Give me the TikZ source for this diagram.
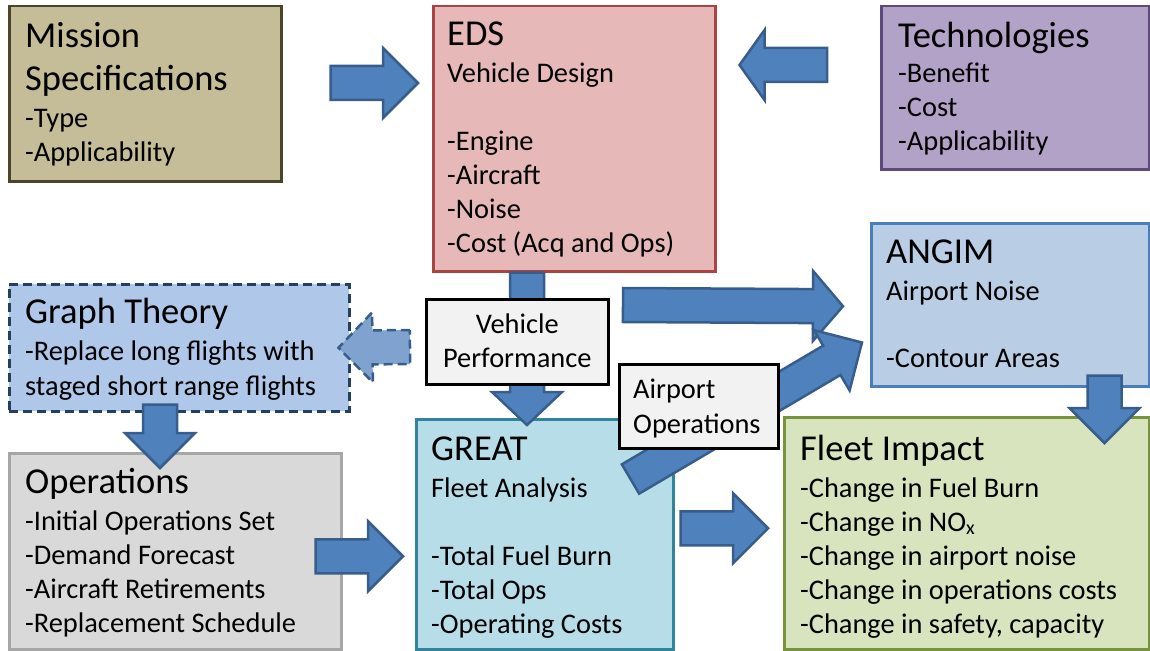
\documentclass[tikz,border=0pt]{standalone}
\usepackage{fontspec}
\setmainfont{Carlito}
\usepackage{xcolor}
\usetikzlibrary{calc}

\definecolor{msnfill}{HTML}{C4BD97}  \definecolor{msnline}{HTML}{4A452A}
\definecolor{edsfill}{HTML}{E6B9B8}  \definecolor{edsline}{HTML}{A94442}
\definecolor{techfill}{HTML}{B3A2C7} \definecolor{techline}{HTML}{5F497A}
\definecolor{angfill}{HTML}{B9CDE5}  \definecolor{angline}{HTML}{4A7EBB}
\definecolor{grphfill}{HTML}{AFC8EA} \definecolor{grphline}{HTML}{243F60}
\definecolor{grtfill}{HTML}{B7DEE8}  \definecolor{grtline}{HTML}{31849B}
\definecolor{opsfill}{HTML}{D9D9D9}  \definecolor{opsline}{HTML}{A6A6A6}
\definecolor{fltfill}{HTML}{D7E4BD}  \definecolor{fltline}{HTML}{77933C}
\definecolor{lblfill}{HTML}{F2F2F2}
\definecolor{arrfill}{HTML}{4F81BD}  \definecolor{arrline}{HTML}{385D8A}
\definecolor{dshfill}{HTML}{80A2CF}

\newcommand{\ttl}[1]{{\fontsize{36.5}{43}\selectfont #1}}
%% block arrow: [style]{from}{to}{head length}
\newcommand{\fatarrow}[4][]{%
  \path #2 coordinate (fa-s) #3 coordinate (fa-e);
  \pgfpointdiff{\pgfpointanchor{fa-s}{center}}{\pgfpointanchor{fa-e}{center}}%
  \pgfgetlastxy\fadx\fady
  \pgfmathsetmacro\faang{atan2(\fady,\fadx)}%
  \pgfmathsetmacro\falen{veclen(\fadx,\fady)}%
  \begin{scope}[shift={(fa-s)}, rotate=\faang, x=1pt, y=1pt]
    \filldraw[fat,#1] (0,-17) -- ({\falen-#4},-17) -- ({\falen-#4},-35) -- (\falen,0)
      -- ({\falen-#4},35) -- ({\falen-#4},17) -- (0,17) -- cycle;
  \end{scope}}

\begin{document}
\begin{tikzpicture}[x=1pt, y=-1pt,
  box/.style={line width=2.5pt, anchor=north west, inner sep=0pt},
  txt/.style={anchor=north west, align=left, inner sep=0pt, font=\fontsize{28.4}{34}\selectfont},
  fat/.style={fill=arrfill, draw=arrline, line width=2.5pt}]
\useasboundingbox (0,0) rectangle (1150,650);
%%── Boxes ────────────────────────────────────────────────
\node[box, fill=msnfill, draw=msnline, minimum width=272, minimum height=175] (mission) at (8,5) {};
\node[box, fill=edsfill, draw=edsline, minimum width=282, minimum height=265] (eds) at (432,5) {};
\node[box, fill=techfill, draw=techline, minimum width=268, minimum height=163] (tech) at (880,5) {};
\node[box, fill=angfill, draw=angline, minimum width=278, minimum height=163] (angim) at (870,222) {};
\node[box, fill=grphfill, draw=grphline, dash pattern=on 9pt off 5pt, minimum width=340, minimum height=127] (graph) at (8,283) {};
\node[box, fill=grtfill, draw=grtline, minimum width=257, minimum height=230] (great) at (415,418) {};
\node[box, fill=opsfill, draw=opsline, minimum width=332, minimum height=196] (ops) at (8,452) {};
\node[box, fill=fltfill, draw=fltline, minimum width=365, minimum height=232] (fleet) at (783,416) {};
%%── Box texts ────────────────────────────────────────────
\node[txt] (mission-t) at ($(mission.north west)+(17,12)$)
  {\rule{0pt}{30pt}\ttl{Mission}\\[9pt]\ttl{Specifications}\\[3pt]-Type\\-Applicability};
\node[txt] (eds-t) at ($(eds.north west)+(15,10)$)
  {\rule{0pt}{30pt}\ttl{EDS}\\[3pt]Vehicle Design\\[34pt]-Engine\\-Aircraft\\-Noise\\-Cost (Acq and Ops)};
\node[txt] (tech-t) at ($(tech.north west)+(18,12)$)
  {\rule{0pt}{30pt}\ttl{Technologies}\\[1pt]-Benefit\\-Cost\\-Applicability};
\node[txt] (angim-t) at ($(angim.north west)+(16,11)$)
  {\rule{0pt}{30pt}\ttl{ANGIM}\\[3pt]Airport Noise\\[33pt]-Contour Areas};
\node[txt] (graph-t) at ($(graph.north west)+(17,10)$)
  {\rule{0pt}{30pt}\ttl{Graph Theory}\\[3pt]-Replace long flights with\\[1pt]staged short range flights};
\node[txt] (great-t) at ($(great.north west)+(16,12)$)
  {\rule{0pt}{30pt}\ttl{GREAT}\\[3pt]Fleet Analysis\\[34pt]-Total Fuel Burn\\-Total Ops\\-Operating Costs};
\node[txt] (ops-t) at ($(ops.north west)+(17,11)$)
  {\rule{0pt}{30pt}\ttl{Operations}\\[3pt]-Initial Operations Set\\-Demand Forecast\\-Aircraft Retirements\\-Replacement Schedule};
\node[txt] (fleet-t) at ($(fleet.north west)+(17,14)$)
  {\rule{0pt}{30pt}\ttl{Fleet Impact}\\[3pt]-Change in Fuel Burn\\-Change in NO\textsubscript{x}\\-Change in airport noise\\-Change in operations costs\\-Change in safety, capacity};
%%── Block arrows ─────────────────────────────────────────
\fatarrow{($(mission.north east)+(48,78)$)}{($(eds.north west)+(-14,78)$)}{35}
\fatarrow{($(tech.north west)+(-53,60)$)}{($(eds.north east)+(23,60)$)}{25}
\fatarrow{($(eds.south west)+(95,0)$)}{($(great.north west)+(112,7)$)}{33}
\fatarrow{($(graph.south west)+(152,-8)$)}{($(ops.north west)+(152,16)$)}{35}
\fatarrow{($(ops.east)+(-27,5)$)}{($(great.west)+(-12,22)$)}{35}
\fatarrow{($(great.east)+(6,-6)$)}{($(fleet.west)+(-15,-5)$)}{35}
\fatarrow{($(angim.south east)+(-46,-12)$)}{($(fleet.north east)+(-46,27)$)}{35}
\fatarrow{(623,305)}{($(angim.west)+(-27,1.5)$)}{30}
\fatarrow{($(great.north east)+(-44,61)$)}{($(angim.south west)+(-8,-45)$)}{35}
%% dashed feedback to graph theory
\fatarrow[fill=dshfill, dash pattern=on 9pt off 5pt]{(410,347)}{($(graph.east)+(-12,0)$)}{34}
%%── Connector labels ─────────────────────────────────────
\node[box, fill=lblfill, draw=black, minimum width=182, minimum height=85] (vperf) at (425,298) {};
\node[txt, anchor=north, align=center] (vperf-t) at ($(vperf.north)+(0,5)$)
  {\rule{0pt}{30pt}Vehicle\\Performance};
\node[box, fill=lblfill, draw=black, minimum width=159, minimum height=84] (aop) at (618,363) {};
\node[txt] (aop-t) at ($(aop.north west)+(15,5)$)
  {\rule{0pt}{30pt}Airport\\[1pt]Operations};
\end{tikzpicture}
\end{document}
